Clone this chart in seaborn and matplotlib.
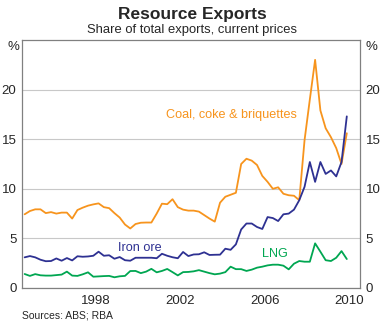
import numpy as np
import pandas as pd
import matplotlib
matplotlib.use("Agg")
import matplotlib.pyplot as plt
import seaborn as sns

# Quarterly observations, 1995 Q1 .. 2010 Q2
start_year = 1995
n_quarters = 62

coal = [7.43, 7.76, 7.93, 7.93, 7.55, 7.65, 7.5, 7.6, 7.6, 7.0,
        7.86, 8.1, 8.3, 8.43, 8.53, 8.15, 8.05, 7.55, 7.1, 6.4,
        6.0, 6.45, 6.58, 6.6, 6.6, 7.5, 8.5, 8.45, 8.95, 8.15,
        7.9, 7.8, 7.8, 7.7, 7.35, 7.0, 6.69, 8.6, 9.2, 9.4,
        9.6, 12.5, 13.03, 12.84, 12.4, 11.3, 10.7, 10.0, 10.15, 9.5,
        9.35, 9.3, 8.85, 14.9, 19.0, 23.0, 17.9, 16.1, 15.2, 14.1,
        12.5, 15.6]
iron = [3.09, 3.22, 3.09, 2.85, 2.7, 2.72, 2.98, 2.75, 3.02, 2.78,
        3.2, 3.15, 3.18, 3.25, 3.66, 3.25, 3.3, 2.95, 3.12, 2.8,
        2.75, 3.05, 3.05, 3.05, 3.05, 3.0, 3.45, 3.25, 3.1, 3.0,
        3.63, 3.22, 3.38, 3.4, 3.6, 3.33, 3.35, 3.36, 3.96, 3.85,
        4.4, 5.9, 6.5, 6.5, 6.15, 5.95, 7.15, 7.05, 6.75, 7.43,
        7.5, 7.9, 8.85, 10.2, 12.7, 10.7, 12.7, 11.5, 11.85, 11.25,
        12.7, 17.3]
lng = [1.41, 1.22, 1.4, 1.28, 1.25, 1.25, 1.3, 1.35, 1.65, 1.25,
       1.22, 1.38, 1.58, 1.14, 1.17, 1.2, 1.22, 1.08, 1.18, 1.22,
       1.71, 1.72, 1.5, 1.65, 1.93, 1.58, 1.72, 1.92, 1.6, 1.27,
       1.6, 1.62, 1.68, 1.8, 1.65, 1.5, 1.38, 1.45, 1.6, 2.15,
       1.9, 1.9, 1.72, 1.85, 2.05, 2.15, 2.28, 2.35, 2.35, 2.25,
       1.88, 2.45, 2.72, 2.65, 2.65, 4.5, 3.66, 2.8, 2.72, 3.05,
       3.72, 2.92]

series_names = ["Coal, coke & briquettes", "Iron ore", "LNG"]
colors = {"Coal, coke & briquettes": "#F7941D",
          "Iron ore": "#2E3192",
          "LNG": "#00A651"}
year_labels = [1998, 2002, 2006, 2010]
y_ticks = [0, 5, 10, 15, 20]

t = start_year + 0.125 + 0.25 * np.arange(n_quarters)
df = pd.concat([
    pd.DataFrame({"date": t, "value": coal, "series": series_names[0]}),
    pd.DataFrame({"date": t, "value": iron, "series": series_names[1]}),
    pd.DataFrame({"date": t, "value": lng, "series": series_names[2]}),
])

sns.set_style("white")
plt.rcParams["font.family"] = ["Liberation Sans", "DejaVu Sans"]

fig = plt.figure(figsize=(3.84, 3.30), dpi=100)
ax = fig.add_axes([22 / 384, 42 / 330, 338 / 384, 248 / 330])

sns.lineplot(data=df, x="date", y="value", hue="series", palette=colors,
             linewidth=1.3, legend=False, ax=ax)

ax.set_xlim(1995, 2011)
ax.set_ylim(0, 25)
ax.set_xlabel("")
ax.set_ylabel("")

# y grid
ax.set_yticks(y_ticks)
ax.yaxis.grid(True, color="#C8C8C8", linewidth=0.8)
ax.set_axisbelow(True)
ax.tick_params(axis="y", length=0, labelsize=9.5, pad=4,
               left=True, right=True, labelleft=True, labelright=True)

# x: year ticks inward, labels centred within year
ax.set_xticks(np.arange(1996, 2011))
ax.set_xticklabels([])
ax.tick_params(axis="x", which="major", direction="in", length=4,
               color="#777777", width=0.8)
ax.set_xticks([y + 0.5 for y in year_labels], minor=True)
ax.set_xticklabels([str(y) for y in year_labels], minor=True)
ax.tick_params(axis="x", which="minor", length=0, labelsize=9.5, pad=5)

for s in ax.spines.values():
    s.set_color("#808080")
    s.set_linewidth(0.9)

# labels
ax.text(2004.93, 17.4, "Coal, coke & briquettes", color=colors[series_names[0]],
        fontsize=9.1, ha="center", va="center")
ax.text(2000.57, 4.05, "Iron ore", color=colors[series_names[1]],
        fontsize=9.1, ha="center", va="center")
ax.text(2006.97, 3.45, "LNG", color=colors[series_names[2]],
        fontsize=9.1, ha="center", va="center")

fig.text(0.5, 1 - 14.5 / 330, "Resource Exports", ha="center", va="center",
         fontsize=12.5, fontweight="bold")
fig.text(0.5, 1 - 30.5 / 330, "Share of total exports, current prices",
         ha="center", va="center", fontsize=9.4)
fig.text(13 / 384, 1 - 47 / 330, "%", ha="center", va="center", fontsize=9.5)
fig.text(371 / 384, 1 - 47 / 330, "%", ha="center", va="center", fontsize=9.5)
fig.text(22 / 384, 1 - 316 / 330, "Sources: ABS; RBA", ha="left", va="center",
         fontsize=7.5)

fig.savefig("out.png", dpi=100)
